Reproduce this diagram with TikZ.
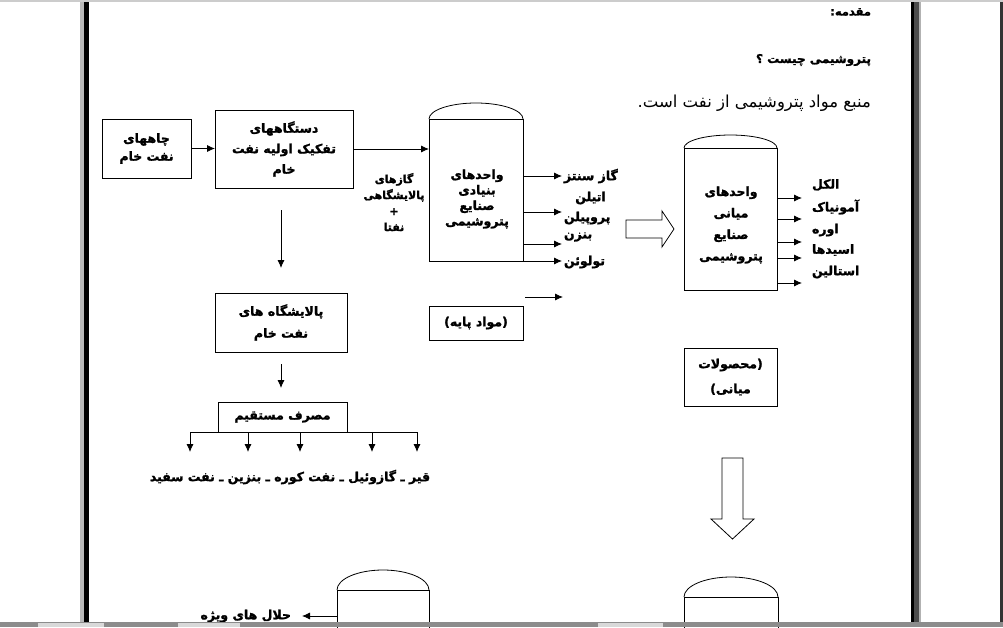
\documentclass[tikz,border=0pt]{standalone}
\usepackage{fontspec}
\setmainfont{DejaVu Sans}
\newfontfamily\ar[Script=Arabic,BoldFeatures={FakeBold=1.6}]{DejaVu Sans}
\TeXXeTstate=1
\usetikzlibrary{arrows.meta,calc}
\newcommand{\fa}[1]{\beginR #1\endR}
\newcommand{\lab}{\ar\bfseries\fontsize{12.5}{18}\selectfont}
\begin{document}
\begin{tikzpicture}[x=1pt,y=-1pt,
  every node/.style={inner sep=0pt,outer sep=0pt},
  box/.style={draw,line width=0.9pt,align=center,font=\lab},
  vessel/.style={draw,line width=0.9pt,fill=white},
  txt/.style={font=\lab,align=center},
  arr/.style={-{Latex[length=8pt,width=7pt]},line width=0.8pt},
  ln/.style={line width=0.8pt},
  hollow/.style={draw,line width=0.8pt,fill=white}]
\useasboundingbox (0,0) rectangle (1003,627);
\fill[white] (0,0) rectangle (1003,627);
% window frame
\fill[gray!55] (80,0) rectangle (83.5,627);
\fill[black] (83.5,0) rectangle (88.5,627);
\fill[black] (911,0) rectangle (914,627);
\fill[black!70] (914,0) rectangle (918.5,627);
\fill[black!30] (918.5,0) rectangle (920.5,627);
\fill[black!80] (1000,0) rectangle (1003,627);
\fill[black!20] (0,0) rectangle (1003,2);

% title texts
\node[anchor=east,font=\ar\bfseries\fontsize{11.5}{14}\selectfont] (t1) at (871,12) {\fa{مقدمه:}};
\node[anchor=east,font=\ar\bfseries\fontsize{12}{14}\selectfont] (t2) at (871,60) {\fa{پتروشیمی چیست ؟}};
\node[anchor=east,font=\ar\fontsize{16.5}{18}\selectfont] (t3) at (871,103) {\fa{منبع مواد پتروشیمی از نفت است.}};

% left chain
\node[box,minimum width=89,minimum height=59] (A) at (146.5,148.5) {\fa{چاههای}\\\fa{نفت خام}};
\node[box,minimum width=138,minimum height=78,font=\ar\bfseries\fontsize{12.5}{20.5}\selectfont] (B) at (284,149) {\fa{دستگاههای}\\\fa{تفکیک اولیه نفت}\\\fa{خام}};
\node[box,minimum width=132,minimum height=59,font=\ar\bfseries\fontsize{12.5}{22}\selectfont] (C) at (281,322.5) {\fa{پالایشگاه های}\\\fa{نفت خام}};
\node[box,minimum width=129,minimum height=30] (D) at (282.5,417) {\fa{مصرف مستقیم}};

\draw[arr] (A.east) -- (B.west |- A.east);
\draw[arr,shorten <=22pt,shorten >=25pt] (C.north |- B.south) -- (C.north);
\draw[arr,shorten <=12pt,shorten >=14pt] (C.south) -- (C.south |- D.north);

% branch
\coordinate (b1) at (190,452);
\coordinate (b2) at (248,452);
\coordinate (b3) at (300,452);
\coordinate (b4) at (372,452);
\coordinate (b5) at (417,452);
\draw[ln] (b1 |- D.south) -- (b5 |- D.south);
\foreach \b in {b1,b2,b3,b4,b5}{\draw[arr] (\b |- D.south) -- (\b);}
\node[txt] (T) at (290,477) {\fa{قیر ـ گازوئیل ـ نفت کوره ـ بنزین ـ نفت سفید}};

% vessel 1
\node[vessel,minimum width=94,minimum height=142] (v1) at (476,190) {};
\draw[ln] (v1.north west) arc[start angle=180,end angle=0,x radius=47pt,y radius=16pt];
\node[txt,font=\ar\bfseries\fontsize{12.5}{15.5}\selectfont] (v1t) at (477,199) {\fa{واحدهای}\\\fa{بنیادی}\\\fa{صنایع}\\\fa{پتروشیمی}};
\draw[arr] (B.east) -- (v1.west |- B.east);
\node[txt,font=\ar\bfseries\fontsize{11}{16}\selectfont] (G) at (394,202) {\fa{گازهای}\\\fa{پالایشگاهی}\\+\\\fa{نفتا}};

\coordinate (p1) at (562,176);
\coordinate (p2) at (562,212);
\coordinate (p3) at (562,244);
\coordinate (p4) at (562,261);
\foreach \p in {p1,p2,p3,p4}{\draw[arr] (v1.east |- \p) -- (\p);}
\node[txt,anchor=west] (o1) at (564,176) {\fa{گاز سنتز}};
\node[txt] (o2) at (590.5,198) {\fa{اتیلن}};
\node[txt,anchor=west] (o3) at (564,218) {\fa{پروپیلن}};
\node[txt,anchor=west] (o4) at (564,237) {\fa{بنزن}};
\node[txt,anchor=west] (o5) at (564,262) {\fa{تولوئن}};

\coordinate (f1) at (525,297);
\coordinate (f2) at (563,297);
\draw[arr] (f1) -- (f2);
\node[box,minimum width=94,minimum height=34] (P) at (476,323) {\fa{(مواد پایه)}};

% hollow right arrow
\path[hollow] (626,220) -- (662,220) -- (662,211) -- (674,229) -- (662,247) -- (662,238) -- (626,238) -- cycle;

% vessel 2
\node[vessel,minimum width=93,minimum height=142] (v2) at (730.5,219) {};
\draw[ln] (v2.north west) arc[start angle=180,end angle=0,x radius=46.5pt,y radius=13pt];
\node[txt,font=\ar\bfseries\fontsize{12.5}{21.5}\selectfont] (v2t) at (731,225) {\fa{واحدهای}\\\fa{میانی}\\\fa{صنایع}\\\fa{پتروشیمی}};
\coordinate (q1) at (802,198);
\coordinate (q2) at (802,219);
\coordinate (q3) at (802,242);
\coordinate (q4) at (802,258);
\coordinate (q5) at (802,283);
\foreach \q in {q1,q2,q3,q4,q5}{\draw[arr] (v2.east |- \q) -- (\q);}
\node[txt,anchor=west] (r1) at (812,185) {\fa{الکل}};
\node[txt,anchor=west] (r2) at (812,207) {\fa{آمونیاک}};
\node[txt,anchor=west] (r3) at (812,230) {\fa{اوره}};
\node[txt,anchor=west] (r4) at (812,250) {\fa{اسیدها}};
\node[txt,anchor=west] (r5) at (812,272) {\fa{استالین}};

\node[box,minimum width=93,minimum height=58,font=\ar\bfseries\fontsize{12.5}{25}\selectfont] (M) at (730.5,377) {\fa{(محصولات}\\\fa{میانی)}};

% hollow down arrow
\path[hollow] (722,458) -- (743,458) -- (743,519) -- (754,519) -- (732.5,539) -- (711,519) -- (722,519) -- cycle;

% bottom vessels
\node[vessel,minimum width=94,minimum height=50] (v3) at (731,622) {};
\draw[ln] (v3.north west) arc[start angle=180,end angle=0,x radius=47pt,y radius=20pt];
\node[vessel,minimum width=92,minimum height=50] (v4) at (383,615) {};
\draw[ln] (v4.north west) arc[start angle=180,end angle=0,x radius=46pt,y radius=20pt];
\coordinate (s1) at (302,616);
\draw[arr] (v4.west |- s1) -- (s1);
\node[txt,anchor=east] (W) at (291,616) {\fa{حلال های ویژه}};

% bottom strip
\fill[black!45] (0,622) rectangle (1003,627);
\fill[black!15] (38,623) rectangle (104,627);
\fill[black!15] (178,623) rectangle (240,627);
\fill[black!15] (598,623) rectangle (663,627);
\end{tikzpicture}
\end{document}
